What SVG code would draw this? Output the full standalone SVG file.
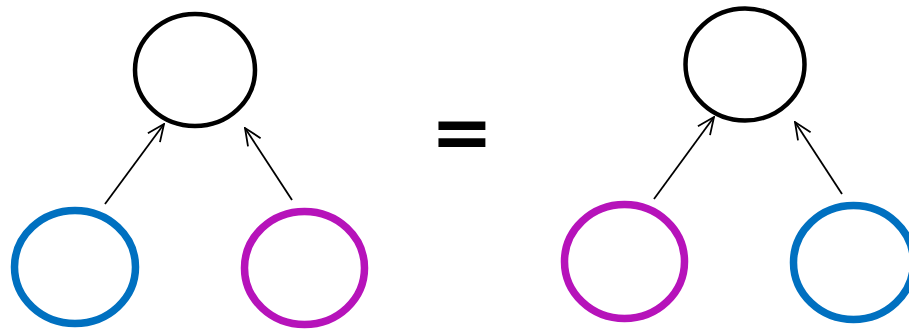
<svg xmlns="http://www.w3.org/2000/svg" width="909" height="330" viewBox="0 0 909 330">
<defs>
<style>
.node{fill:none}
.blk{stroke:#000;stroke-width:4.5}
.blue{stroke:#0070C0;stroke-width:7.5}
.mag{stroke:#B613BA;stroke-width:7.5}
.edge{stroke:#000;stroke-width:1.8;fill:none}
.eq{font-family:"DejaVu Sans",sans-serif;font-weight:bold;font-size:75px;fill:#000}
</style>
<marker id="arr" viewBox="0 0 20 20" refX="19" refY="10" markerWidth="20" markerHeight="20" markerUnits="userSpaceOnUse" orient="auto">
<path d="M2,2.5 L19,10 L2,17.5" fill="none" stroke="#000" stroke-width="1.8"/>
</marker>
</defs>
<rect width="909" height="330" fill="#fff"/>
<g id="connectors">
<line class="edge" x1="105" y1="204" x2="164" y2="124" marker-end="url(#arr)"/>
<line class="edge" x1="292" y1="200" x2="245" y2="128" marker-end="url(#arr)"/>
<line class="edge" x1="654" y1="199" x2="714" y2="117" marker-end="url(#arr)"/>
<line class="edge" x1="842" y1="194" x2="795" y2="122" marker-end="url(#arr)"/>
</g>
<g id="left-top"><ellipse class="node blk" cx="195" cy="70" rx="60" ry="56"/></g>
<g id="left-blue"><ellipse class="node blue" cx="75" cy="267" rx="60.5" ry="56.5"/></g>
<g id="left-magenta"><ellipse class="node mag" cx="304.5" cy="268" rx="60" ry="56.5"/></g>
<g id="equals"><text class="eq" x="462" y="158" text-anchor="middle">=</text></g>
<g id="right-top"><ellipse class="node blk" cx="745" cy="64.5" rx="59.5" ry="56"/></g>
<g id="right-magenta"><ellipse class="node mag" cx="624.5" cy="261.5" rx="60" ry="57"/></g>
<g id="right-blue"><ellipse class="node blue" cx="853.5" cy="262.5" rx="60" ry="57"/></g>
</svg>
